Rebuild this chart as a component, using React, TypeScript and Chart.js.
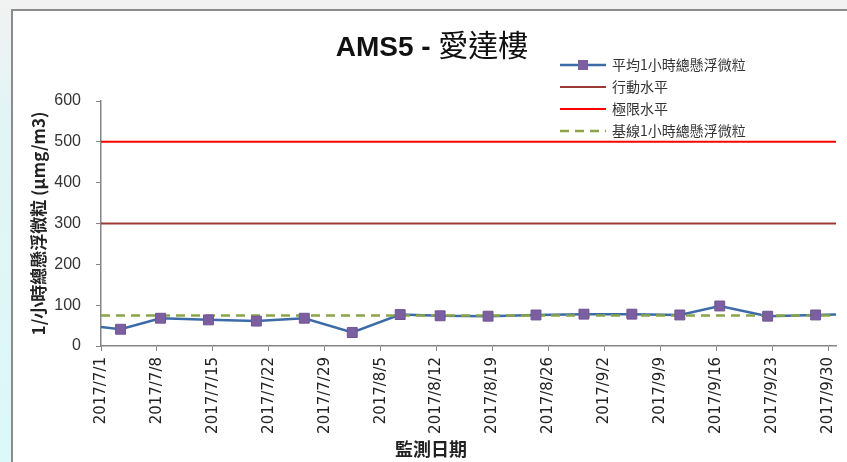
import React, { useEffect, useRef } from 'react';
import { Chart, registerables } from 'chart.js';

Chart.register(...registerables);

// ---- data ----
const chartTitleLatin = 'AMS5 - ';
const chartTitleCjk = '愛達樓';
const xAxisTitle = '監測日期';
const yAxisTitle = '1/小時總懸浮微粒 (μmg/m3)';

const seriesNames = ['平均1小時總懸浮微粒', '行動水平', '極限水平', '基線1小時總懸浮微粒'];

// sample dates (first and last lie just outside the visible axis range)
const sampleDates = [
  '2017/6/27', '2017/7/3', '2017/7/8', '2017/7/14', '2017/7/20', '2017/7/26', '2017/8/1',
  '2017/8/7', '2017/8/12', '2017/8/18', '2017/8/24', '2017/8/30', '2017/9/5', '2017/9/11',
  '2017/9/16', '2017/9/22', '2017/9/28', '2017/10/4',
];
const avgTsp = [54, 41, 68, 64, 61, 68, 33, 77, 74, 73, 76, 78, 78, 76, 98, 73, 76, 78];

const actionLevel = 300;
const limitLevel = 500;
const baselineTsp = 75;

const xTickLabels = [
  '2017/7/1', '2017/7/8', '2017/7/15', '2017/7/22', '2017/7/29', '2017/8/5', '2017/8/12',
  '2017/8/19', '2017/8/26', '2017/9/2', '2017/9/9', '2017/9/16', '2017/9/23', '2017/9/30',
];
const axisStart = '2017/7/1';
const axisEnd = '2017/10/1';
const yTicks = [0, 100, 200, 300, 400, 500, 600];

// ---- helpers ----
const origin = Date.UTC(2017, 6, 1);
function dayOf(s: string): number {
  const [y, m, d] = s.split('/').map(Number);
  return (Date.UTC(y, m - 1, d) - origin) / 86400000;
}

const COLORS = {
  avgLine: '#3d6ba8',
  avgMarker: '#7b5fa0',
  action: '#9c3a38',
  limit: '#ff0000',
  baseline: '#8aa548',
  axis: '#868686',
};

const decorPlugin = {
  id: 'decor',
  afterDraw(chart: any) {
    const ctx = chart.ctx as CanvasRenderingContext2D;
    ctx.save();
    // title
    const latinFont = 'bold 28px "Liberation Sans", Arial, sans-serif';
    const cjkFont = '30px "Noto Sans CJK TC", sans-serif';
    ctx.font = latinFont;
    const w1 = ctx.measureText(chartTitleLatin).width;
    ctx.font = cjkFont;
    const w2 = ctx.measureText(chartTitleCjk).width;
    const cx = 432;
    const startX = cx - (w1 + w2) / 2;
    ctx.fillStyle = '#111';
    ctx.textBaseline = 'alphabetic';
    ctx.textAlign = 'left';
    ctx.font = latinFont;
    ctx.fillText(chartTitleLatin, startX, 56);
    ctx.font = cjkFont;
    ctx.fillText(chartTitleCjk, startX + w1, 56);

    // x-axis title
    ctx.font = 'bold 18px "Noto Sans CJK TC", sans-serif';
    ctx.textAlign = 'center';
    ctx.textBaseline = 'middle';
    ctx.fillStyle = '#222';
    ctx.fillText(xAxisTitle, 431, 449);

    // legend
    const rows = [65, 87, 109, 131];
    const lx0 = 560;
    const lx1 = 606;
    ctx.font = '14px "Noto Sans CJK TC", sans-serif';
    ctx.textAlign = 'left';
    ctx.textBaseline = 'middle';
    const styles = [
      { color: COLORS.avgLine, dash: [] as number[], marker: true, width: 2.5 },
      { color: COLORS.action, dash: [], marker: false, width: 2 },
      { color: COLORS.limit, dash: [], marker: false, width: 2 },
      { color: COLORS.baseline, dash: [9, 6], marker: false, width: 2.5 },
    ];
    styles.forEach((st, i) => {
      const y = rows[i];
      ctx.beginPath();
      ctx.setLineDash(st.dash);
      ctx.strokeStyle = st.color;
      ctx.lineWidth = st.width;
      ctx.moveTo(lx0, y);
      ctx.lineTo(lx1, y);
      ctx.stroke();
      ctx.setLineDash([]);
      if (st.marker) {
        ctx.fillStyle = COLORS.avgMarker;
        ctx.fillRect((lx0 + lx1) / 2 - 5, y - 5, 10, 10);
      }
      ctx.fillStyle = '#333';
      ctx.fillText(seriesNames[i], 612, y);
    });
    ctx.restore();
  },
};

export default function App() {
  const ref = useRef<HTMLCanvasElement | null>(null);

  useEffect(() => {
    if (!ref.current) return;
    const xMin = dayOf(axisStart);
    const xMax = dayOf(axisEnd);
    const avgPts = sampleDates.map((d, i) => ({ x: dayOf(d) + 0.45, y: avgTsp[i] }));
    const flat = (v: number) => [
      { x: xMin, y: v },
      { x: xMax, y: v },
    ];

    const chart = new Chart(ref.current, {
      type: 'line',
      data: {
        datasets: [
          {
            label: seriesNames[0] + ' markers',
            data: avgPts,
            showLine: false,
            pointStyle: 'rect',
            pointRadius: 7,
            pointBackgroundColor: COLORS.avgMarker,
            pointBorderColor: '#6f5494',
            pointBorderWidth: 1,
            order: 0,
          },
          {
            label: seriesNames[3],
            data: flat(baselineTsp),
            borderColor: COLORS.baseline,
            borderWidth: 2.5,
            borderDash: [9, 6],
            pointRadius: 0,
            order: 1,
          },
          {
            label: seriesNames[1],
            data: flat(actionLevel),
            borderColor: COLORS.action,
            borderWidth: 2,
            pointRadius: 0,
            order: 2,
          },
          {
            label: seriesNames[2],
            data: flat(limitLevel),
            borderColor: COLORS.limit,
            borderWidth: 2,
            pointRadius: 0,
            order: 3,
          },
          {
            label: seriesNames[0],
            data: avgPts,
            borderColor: COLORS.avgLine,
            borderWidth: 2.5,
            pointRadius: 0,
            tension: 0,
            order: 4,
          },
        ],
      },
      options: {
        animation: false,
        responsive: false,
        maintainAspectRatio: false,
        layout: { padding: { top: 101, right: 11, left: 0, bottom: 0 } },
        plugins: {
          legend: { display: false },
          title: { display: false },
          tooltip: { enabled: false },
        },
        scales: {
          x: {
            type: 'linear',
            min: xMin,
            max: xMax,
            afterBuildTicks: (s: any) => {
              s.ticks = xTickLabels.map((l) => ({ value: dayOf(l) }));
            },
            afterFit: (s: any) => {
              s.height = 116;
              s.paddingLeft = 0;
              s.paddingRight = 0;
            },
            ticks: {
              autoSkip: false,
              minRotation: 90,
              maxRotation: 90,
              padding: 6,
              font: { family: '"DejaVu Sans"', size: 15 },
              color: '#222',
              callback: (_v: any, i: number) => xTickLabels[i],
            },
            grid: { drawOnChartArea: false, drawTicks: true, tickLength: 5, color: COLORS.axis },
            border: { display: true, color: COLORS.axis, width: 1.5 },
          },
          y: {
            min: 0,
            max: 600,
            afterBuildTicks: (s: any) => {
              s.ticks = yTicks.map((v) => ({ value: v }));
            },
            afterFit: (s: any) => {
              s.width = 101;
              s.paddingTop = 0;
              s.paddingBottom = 0;
            },
            ticks: {
              padding: 15,
              font: { family: '"Liberation Sans"', size: 16 },
              color: '#333',
            },
            grid: { drawOnChartArea: false, drawTicks: true, tickLength: 5, color: COLORS.axis },
            border: { display: true, color: COLORS.axis, width: 1.5 },
            title: {
              display: true,
              text: yAxisTitle,
              font: { family: '"Noto Sans CJK TC"', size: 17, weight: 'bold' },
              color: '#222',
              padding: { top: 28, bottom: 0 },
            },
          },
        },
      },
      plugins: [decorPlugin],
    } as any);

    return () => chart.destroy();
  }, []);

  return (
    <div
      style={{
        position: 'fixed',
        left: 0,
        top: 0,
        width: 847,
        height: 462,
        overflow: 'hidden',
        background: '#f2f2f2',
      }}
    >
      <div
        style={{
          position: 'absolute',
          left: 0,
          top: 0,
          width: 11,
          height: 462,
          background: 'linear-gradient(#f2f2f2 0%, #e2f4f6 25%, #dcf8f9 100%)',
        }}
      />
      <div
        style={{
          position: 'absolute',
          left: 11,
          top: 9,
          right: 0,
          bottom: 0,
          background: '#ffffff',
          borderTop: '2px solid #8c8c8c',
          borderLeft: '2px solid #8c8c8c',
        }}
      />
      <canvas ref={ref} width={847} height={462} style={{ position: 'absolute', left: 0, top: 0 }} />
    </div>
  );
}
